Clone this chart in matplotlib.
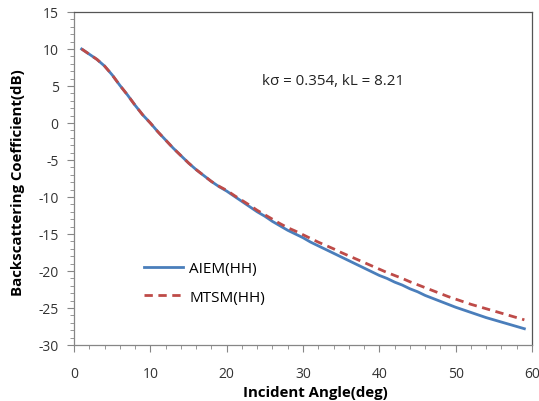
import numpy as np
import matplotlib
matplotlib.use("Agg")
import matplotlib.pyplot as plt
from matplotlib.ticker import MultipleLocator

# incident angle (deg) and backscattering (dB)
angle = list(range(1, 60))
aiem_hh = [10.0, 9.3, 8.6, 7.7, 6.5, 5.1, 3.8, 2.4, 1.1, 0.0,
           -1.2, -2.3, -3.4, -4.4, -5.4, -6.3, -7.1, -7.9, -8.6, -9.2,
           -9.9, -10.6, -11.3, -12.0, -12.6, -13.3, -13.9, -14.5, -15.0, -15.5,
           -16.1, -16.6, -17.1, -17.6, -18.1, -18.6, -19.1, -19.6, -20.1, -20.6,
           -21.0, -21.5, -21.9, -22.4, -22.8, -23.3, -23.7, -24.1, -24.5, -24.9,
           -25.25, -25.6, -25.95, -26.3, -26.6, -26.9, -27.2, -27.5, -27.8]
mtsm_hh = [10.0, 9.3, 8.6, 7.7, 6.5, 5.1, 3.8, 2.4, 1.1, 0.0,
           -1.2, -2.3, -3.4, -4.4, -5.4, -6.3, -7.1, -7.9, -8.55, -9.1,
           -9.8, -10.45, -11.1, -11.8, -12.4, -13.0, -13.6, -14.15, -14.6, -15.1,
           -15.6, -16.1, -16.55, -17.0, -17.5, -17.95, -18.4, -18.85, -19.3, -19.75,
           -20.2, -20.6, -21.0, -21.45, -21.85, -22.25, -22.65, -23.05, -23.45, -23.8,
           -24.15, -24.5, -24.8, -25.1, -25.4, -25.7, -26.0, -26.3, -26.6]

plt.rcParams['font.family'] = ['Open Sans', 'DejaVu Sans']
plt.rcParams['axes.unicode_minus'] = False

fig = plt.figure(figsize=(5.39, 4.02), dpi=100)
ax = fig.add_axes([74/539, 1 - 346/402, (532-74)/539, (346-13)/402])

ax.plot(angle, aiem_hh, color='#4a7ebb', lw=2, label='AIEM(HH)')
ax.plot(angle, mtsm_hh, color='#be4b48', lw=2, ls=(0, (3, 2)), label='MTSM(HH)')

ax.set_xlim(0, 60)
ax.set_ylim(-30, 15)
ax.xaxis.set_major_locator(MultipleLocator(10))
ax.xaxis.set_minor_locator(MultipleLocator(2))
ax.yaxis.set_major_locator(MultipleLocator(5))
ax.yaxis.set_minor_locator(MultipleLocator(1))
ax.tick_params(which='both', direction='out', colors='#868686', labelcolor='#333333', labelsize=10)
ax.tick_params(which='major', length=5)
ax.tick_params(which='minor', length=3)
ax.tick_params(axis='x', pad=10)
ax.tick_params(axis='y', pad=6)
for s in ax.spines.values():
    s.set_color('#868686')
    s.set_linewidth(0.9)
ax.spines['top'].set_color('#555555')
ax.spines['right'].set_color('#555555')

ax.set_xlabel('Incident Angle(deg)', fontsize=10.8, fontweight='bold')
ax.set_ylabel('Backscattering Coefficient(dB)', fontsize=10.8, fontweight='bold')
ax.xaxis.set_label_coords(0.526, -0.12)
ax.yaxis.set_label_coords(-0.107, 0.491)

ax.text(24.6, 5.7, 'kσ = 0.354, kL = 8.21', fontsize=10.9, va='center', color='#222222')

ax.legend(loc='upper left', bbox_to_anchor=(144/539, 1 - 262/402), bbox_transform=fig.transFigure,
          frameon=False, fontsize=11, borderpad=0, borderaxespad=0,
          handlelength=2.55, labelspacing=0.9, handletextpad=0.4)

fig.savefig('out.png', dpi=100)
